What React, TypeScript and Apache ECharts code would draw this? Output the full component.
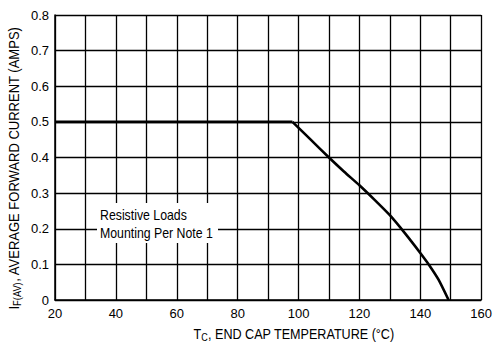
import React, { useEffect, useRef } from "react";
import * as echarts from "echarts";

const flatTemp = [20, 98];
const flatCurrent = [0.5, 0.5];
const deratingTemp = [98, 104, 110, 115, 120, 125, 130, 135, 140, 143, 146, 149.3];
const deratingCurrent = [0.5, 0.45, 0.4, 0.36, 0.322, 0.281, 0.238, 0.187, 0.132, 0.097, 0.057, 0];
const noteLines = ["Resistive Loads", "Mounting Per Note 1"];

const FONT = '"Liberation Sans", Arial, sans-serif';

export default function App() {
  const ref = useRef<HTMLDivElement>(null);
  useEffect(() => {
    if (!ref.current) return;
    const chart = echarts.init(ref.current, undefined, { renderer: "svg" });
    const flat = flatTemp.map((t, i) => [t, flatCurrent[i]]);
    const derating = deratingTemp.map((t, i) => [t, deratingCurrent[i]]);
    const rich = {
      b: { fontFamily: FONT, fontSize: 14, color: "#000", lineHeight: 16 },
      s: { fontFamily: FONT, fontSize: 10, color: "#000", lineHeight: 16, padding: [6, 0, 0, 0] },
    };
    chart.setOption({
      animation: false,
      backgroundColor: "#fff",
      grid: { left: 55, right: 13, top: 15, bottom: 45, containLabel: false },
      xAxis: {
        type: "value",
        min: 20,
        max: 160,
        interval: 10,
        axisLine: { show: true, lineStyle: { color: "#000", width: 1.5 } },
        axisTick: { show: false },
        splitLine: { show: true, lineStyle: { color: "#000", width: 1.3 } },
        axisLabel: {
          color: "#000",
          fontFamily: FONT,
          fontSize: 13,
          margin: 7,
          formatter: (v: number) => (v % 20 === 0 ? String(v) : ""),
        },
      },
      yAxis: {
        type: "value",
        min: 0,
        max: 0.8,
        interval: 0.1,
        axisLine: { show: true, lineStyle: { color: "#000", width: 1.5 } },
        axisTick: { show: false },
        splitLine: { show: true, lineStyle: { color: "#000", width: 1.3 } },
        axisLabel: {
          color: "#000",
          fontFamily: FONT,
          fontSize: 13,
          margin: 6,
          formatter: (v: number) => (v === 0 ? "0" : v.toFixed(1)),
        },
      },
      series: [
        {
          type: "line",
          data: flat,
          showSymbol: false,
          lineStyle: { color: "#000", width: 2.6 },
          z: 5,
        },
        {
          type: "line",
          data: derating,
          showSymbol: false,
          smooth: 0.2,
          lineStyle: { color: "#000", width: 2.6 },
          z: 5,
        },
      ],
      graphic: [
        {
          type: "rect",
          shape: { x: 97, y: 203, width: 121, height: 40 },
          style: { fill: "#fff" },
          z: 10,
        },
        {
          type: "text",
          x: 100,
          y: 215,
          scaleX: 0.88,
          style: { text: noteLines[0], font: `14px ${FONT}`, fill: "#000", verticalAlign: "middle" },
          z: 11,
        },
        {
          type: "text",
          x: 100,
          y: 233,
          scaleX: 0.88,
          style: { text: noteLines[1], font: `14px ${FONT}`, fill: "#000", verticalAlign: "middle" },
          z: 11,
        },
        {
          type: "text",
          x: 294,
          y: 334,
          scaleX: 0.9,
          style: {
            text: "{b|T}{s|C}{b|, END CAP TEMPERATURE (°C)}",
            align: "center",
            verticalAlign: "middle",
            rich,
          },
        },
        {
          type: "text",
          x: 14,
          y: 168,
          rotation: Math.PI / 2,
          scaleX: 0.93,
          style: {
            text: "{b|I}{s|F(AV)}{b|, AVERAGE FORWARD CURRENT (AMPS)}",
            align: "center",
            verticalAlign: "middle",
            rich,
          },
        },
      ],
    });
    return () => chart.dispose();
  }, []);
  return (
    <div
      ref={ref}
      style={{ position: "absolute", left: 0, top: 0, width: 495, height: 345 }}
    />
  );
}
